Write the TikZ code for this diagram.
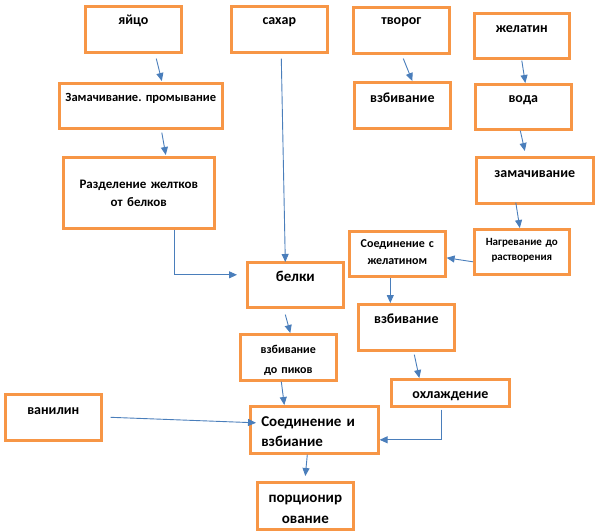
\documentclass[tikz,border=0pt]{standalone}
\usepackage{fontspec}
\setmainfont{Carlito}
\usepackage{xcolor}
\usetikzlibrary{arrows.meta,positioning,calc}
\definecolor{stageorange}{HTML}{F79646}
\definecolor{flowblue}{HTML}{4A7EBB}
\newcommand{\lblfont}[2]{\bfseries\fontsize{#1}{#2}\selectfont}

\begin{document}
\begin{tikzpicture}[x=1pt,y=-1pt]
  % technological flow chart, boxes placed at pixel coordinates
  \tikzset{stage/.style={draw=stageorange,line width=2.6pt,anchor=north west,
      inner sep=0pt,align=center,font=\lblfont{14}{18}},
    flow/.style={draw=flowblue,line width=0.9pt,-{Triangle[length=8pt,width=7pt]}}}
  \useasboundingbox (0,0) rectangle (596,531);

  % raw materials
  \node[stage,text width=96pt,text height=18pt,text depth=28pt] (yaico) at (84,5) {яйцо};
  \node[stage,text width=96pt,text height=18pt,text depth=28pt] (sahar) at (230,5) {сахар};
  \node[stage,text width=96pt,text height=17pt,text depth=29pt] (tvorog) at (352,6) {творог};
  \node[stage,text width=95pt,text height=19pt,text depth=26pt] (zhelatin) at (473,12) {желатин};

  % egg line
  \node[stage,text width=163pt,text height=18pt,text depth=27pt,font=\lblfont{12.5}{16}] (zamach) at (58,82) {Замачивание.\ промывание};
  \node[stage,text width=151pt,text height=31pt,text depth=40pt,font=\lblfont{13}{18}] (razdel) at (62,156) {Разделение желтков\\от белков};
  \node[stage,text width=96pt,text height=19pt,text depth=26pt,font=\lblfont{15}{20}] (belki) at (246,261) {белки};
  \node[stage,text width=96pt,text height=19pt,text depth=27pt,font=\lblfont{12}{20}] (vzbpik) at (239,333) {взбивание\\до пиков};

  % curd and gelatine line
  \node[stage,text width=96pt,text height=20pt,text depth=26pt] (vzbtvorog) at (353,81) {взбивание};
  \node[stage,text width=96pt,text height=18pt,text depth=27pt] (voda) at (474,83) {вода};
  \node[stage,text width=117pt,text height=20pt,text depth=26pt] (zamach2) at (475,156) {замачивание};
  \node[stage,text width=95pt,text height=16pt,text depth=29pt,font=\lblfont{11}{15}] (nagrev) at (473,228) {Нагревание до\\растворения};
  \node[stage,text width=96pt,text height=16pt,text depth=29pt,font=\lblfont{12}{17}] (soedzhel) at (348,230) {Соединение с\\желатином};
  \node[stage,text width=96pt,text height=19pt,text depth=27pt] (vzbiv) at (357,303) {взбивание};
  \node[stage,text width=118pt,text height=19pt,text depth=8pt] (ohlazh) at (390,378) {охлаждение};

  % final steps
  \node[stage,text width=96pt,text height=20pt,text depth=26pt] (vanilin) at (4,393) {ванилин};
  \node[stage,text width=106pt,inner xsep=11pt,align=left,text height=20pt,text depth=27pt,font=\lblfont{15}{20}] (soedvzb) at (249,405) {Соединение и\\взбиание};
  \node[stage,text width=96pt,text height=20pt,text depth=27pt,font=\lblfont{15}{21}] (porc) at (256,481) {порционир\\ование};

  % connectors
  \draw[flow] ([xshift=23pt,yshift=-5pt]yaico.south) -- ([xshift=21pt,yshift=1pt]zamach.north);
  \draw[flow] ([xshift=21pt,yshift=-3pt]zamach.south) -- ([xshift=27pt,yshift=1pt]razdel.north);
  \draw[flow] ([xshift=36pt]razdel.south) |- ([xshift=-9pt,yshift=10pt]belki.west);
  \draw[flow] ([xshift=2pt,yshift=-5pt]sahar.south) -- ([xshift=-10pt,yshift=-1pt]belki.north);
  \draw[flow] ([xshift=2pt,yshift=-4pt]tvorog.south) -- ([xshift=10pt]vzbtvorog.north);
  \draw[flow] ([yshift=-1pt]zhelatin.south) -- ([xshift=2pt]voda.north);
  \draw[flow] ([xshift=-3pt]voda.south) -- ([xshift=-10pt,yshift=5pt]zamach2.north);
  \draw[flow] ([xshift=-19pt,yshift=2pt]zamach2.south) -- ([xshift=-2pt]nagrev.north);
  \draw[flow] ([yshift=-10pt]nagrev.west) -- ([yshift=-4pt]soedzhel.east);
  \draw[flow] ([xshift=-7pt]soedzhel.south) -- ([xshift=-16pt]vzbiv.north);
  \draw[flow] ([xshift=-10pt,yshift=-6pt]belki.south) -- ([xshift=2pt]vzbpik.north);
  \draw[flow] ([xshift=-7pt]vzbpik.south) -- ([xshift=-30pt]soedvzb.north);
  \draw[flow] ([xshift=8pt]vanilin.east) -- ([xshift=7pt,yshift=7pt]soedvzb.west);
  \draw[flow] ([xshift=8pt,yshift=-3pt]vzbiv.south) -- ([xshift=-31pt]ohlazh.north);
  \draw[flow] ([xshift=-9pt,yshift=-2pt]ohlazh.south) |- ([yshift=-10pt]soedvzb.east);
  \draw[flow] ([xshift=-7pt]soedvzb.south) -- ([yshift=5pt]porc.north);
\end{tikzpicture}
\end{document}
